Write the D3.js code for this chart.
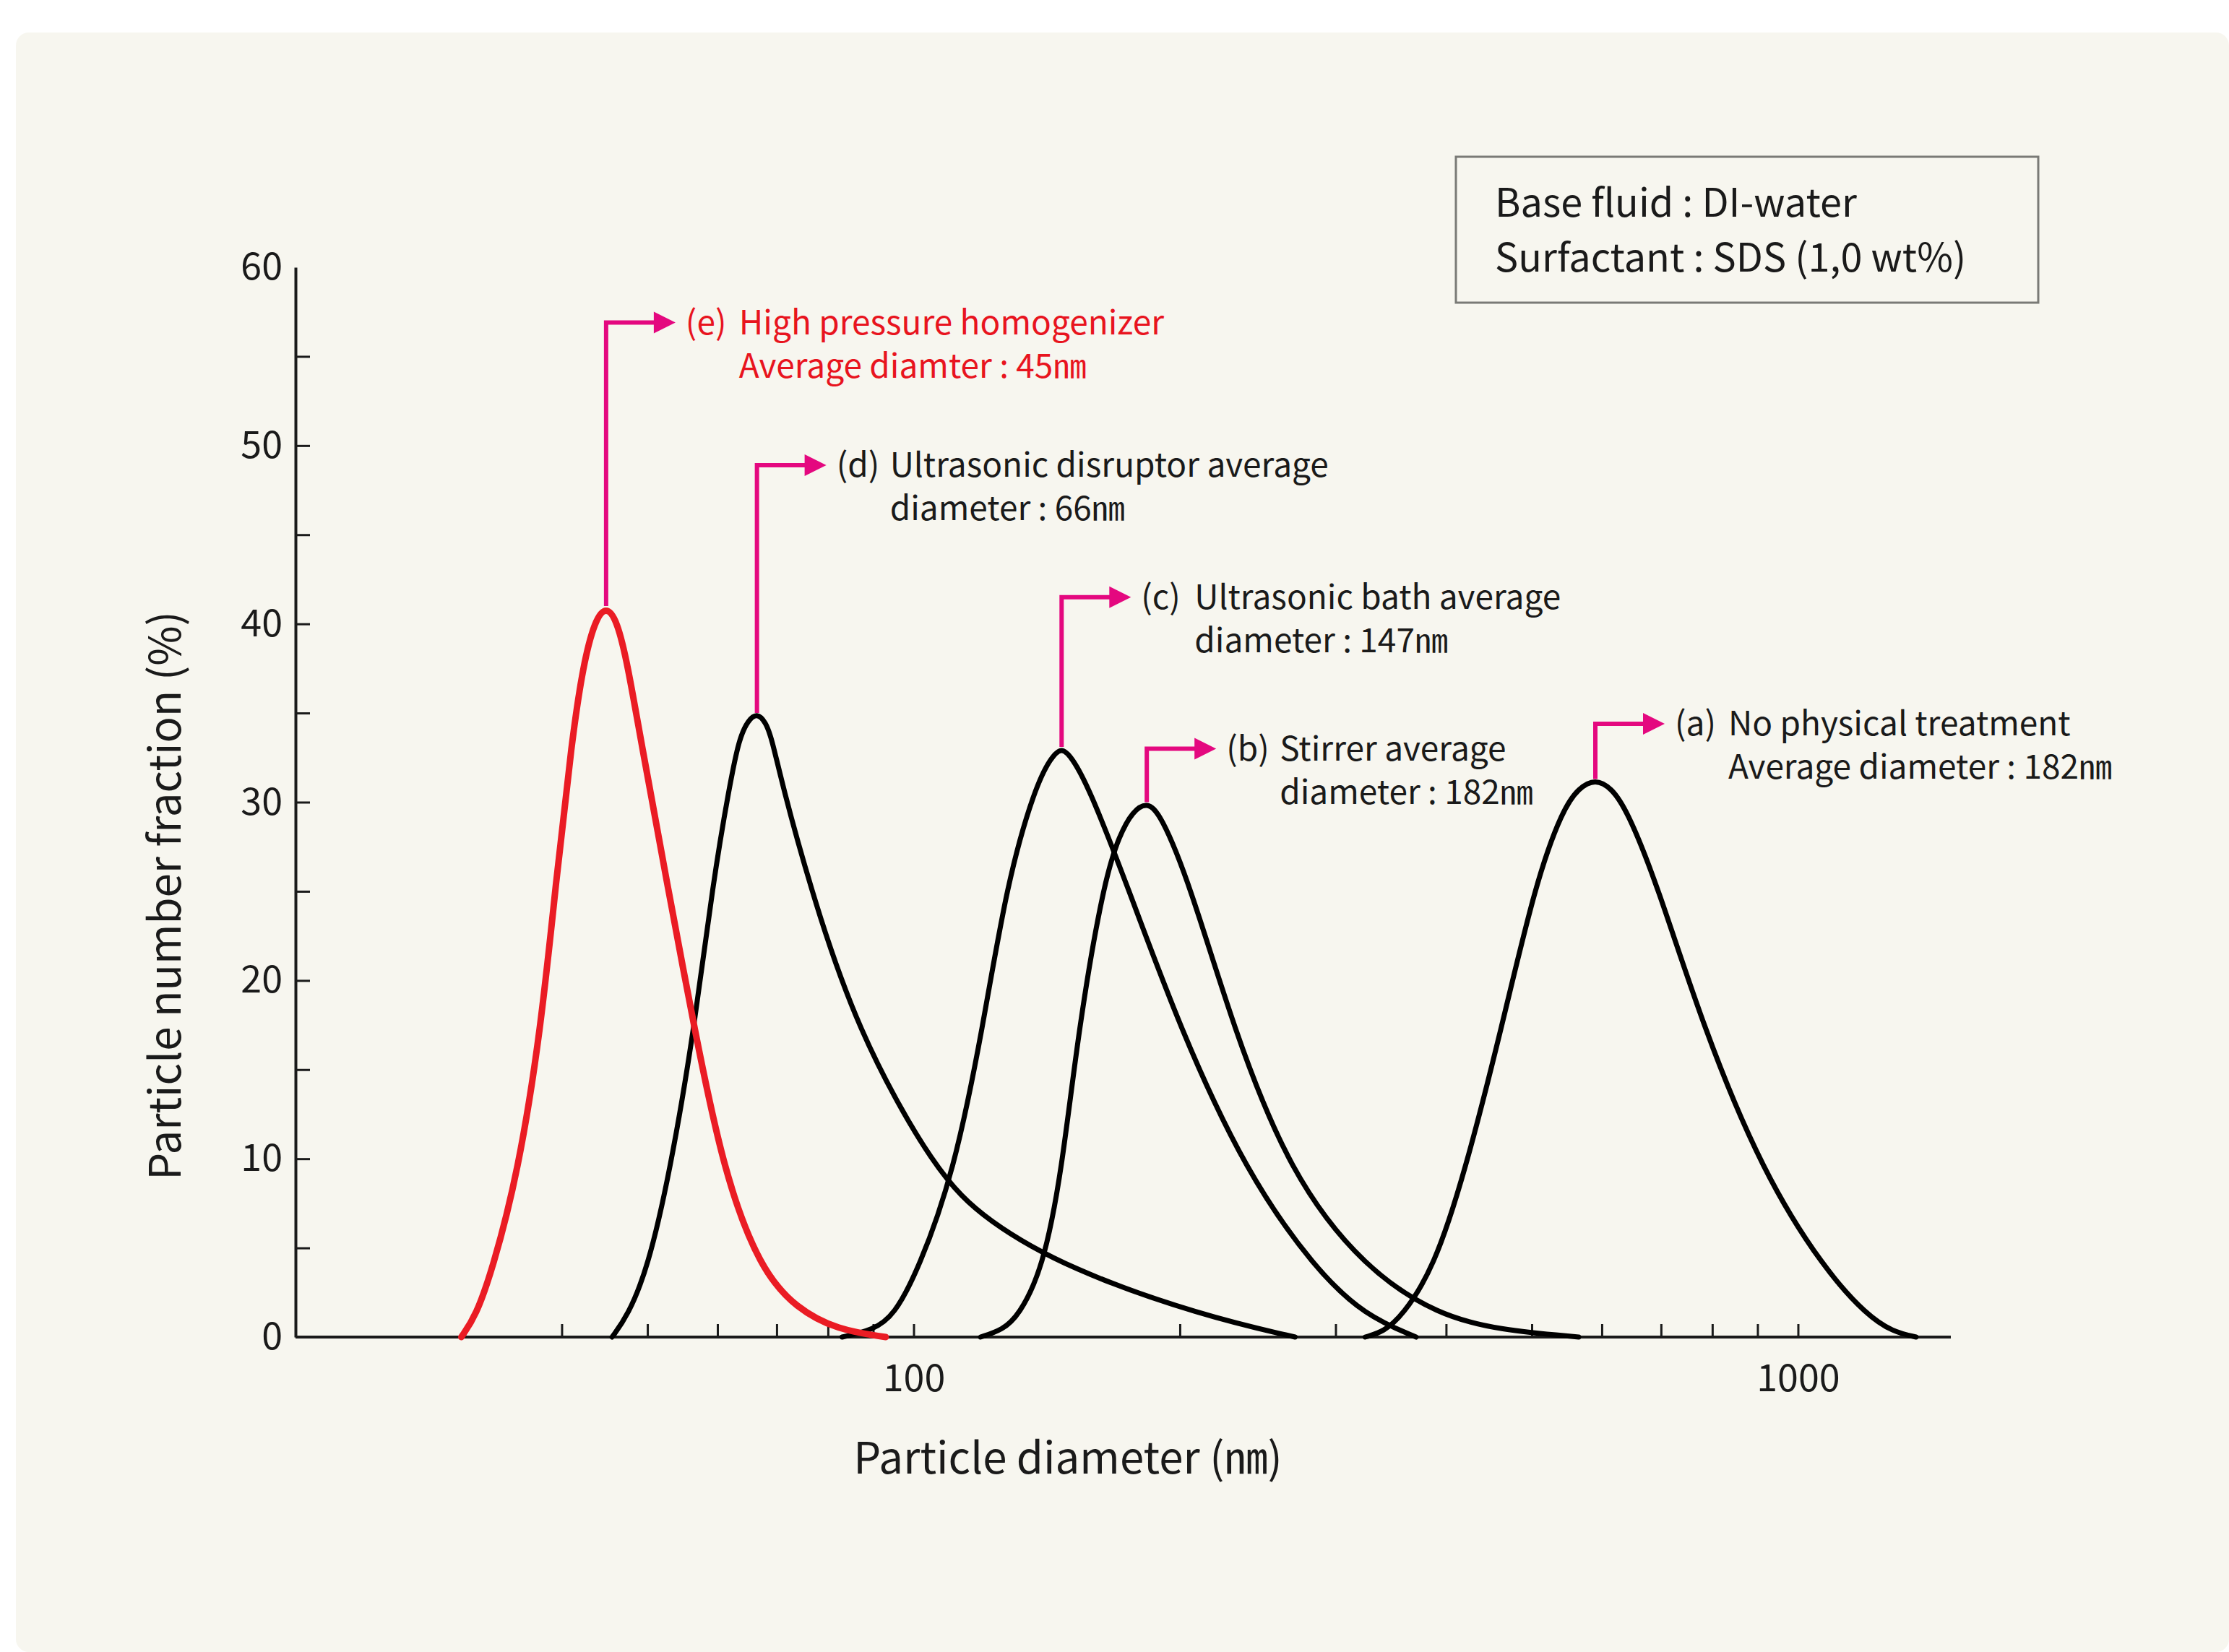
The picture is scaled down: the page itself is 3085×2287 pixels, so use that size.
<!DOCTYPE html>
<html>
<head>
<meta charset="utf-8">
<script src="https://cdn.jsdelivr.net/npm/d3@7"></script>
<style>
  body { margin: 0; background: #ffffff; }
  text { font-family: "Noto Sans CJK KR", "Noto Sans", sans-serif; }
</style>
</head>
<body>
<div id="chart"></div>
<script>
// Particle size distributions, [diameter (nm), number fraction (%)]
const seriesA = [[324, 0], [340, 0.3], [357, 1.2], [387, 3.8], [420, 9.2], [462, 17.3], [505, 25.5], [542, 29.6], [565, 30.8], [590, 31.3], [615, 30.8], [640, 29.6], [692, 25.5], [782, 17.3], [913, 9.2], [1071, 3.8], [1198, 1.2], [1280, 0.3], [1360, 0]];
const seriesB = [[119, 0], [126, 0.4], [131.5, 1.2], [139.9, 3.8], [147, 9.2], [153.6, 17.3], [164, 25.5], [171, 28.2], [177, 29.5], [183.5, 30.0], [190, 29.4], [205, 25.5], [230, 17.3], [266, 9.2], [324, 3.8], [393, 1.2], [460, 0.4], [565, 0]];
const seriesC = [[83, 0], [90, 0.4], [95, 1.2], [101.3, 3.8], [111, 9.2], [119.7, 17.3], [127.5, 25.5], [137.3, 30.9], [143, 32.5], [147, 33.1], [151, 32.5], [157.6, 30.9], [173.9, 25.5], [200, 17.3], [237.8, 9.2], [284.6, 3.8], [324, 1.2], [370, 0]];
const seriesD = [[45.6, 0], [47.5, 1.2], [50, 3.8], [53, 9.2], [56.5, 17.3], [59.3, 25.5], [61.9, 30.9], [63.5, 33.6], [65, 34.6], [66.5, 35.0], [68, 34.5], [69.1, 33.6], [71.1, 30.9], [76.1, 25.5], [86, 17.3], [106, 9.2], [121, 6.5], [150, 3.8], [212, 1.2], [270, 0]];
const seriesE = [[30.8, 0], [32, 1.2], [33.4, 3.8], [35.7, 9.2], [37.9, 17.3], [39.4, 25.5], [41.1, 33.6], [42.3, 37.7], [43.6, 40.2], [44.9, 41.0], [46.2, 40.2], [47.5, 37.7], [49.1, 33.6], [52.6, 25.5], [56.5, 17.3], [61, 9.2], [67.1, 3.8], [73.7, 1.6], [82, 0.4], [93, 0]];

const tags = ["(a)", "(b)", "(c)", "(d)", "(e)"];
const line1 = ["No physical treatment", "Stirrer average", "Ultrasonic bath average", "Ultrasonic disruptor average", "High pressure homogenizer"];
const line2 = ["Average diameter : 182㎚", "diameter : 182㎚", "diameter : 147㎚", "diameter : 66㎚", "Average diamter : 45㎚"];
const labelLevel = [34.4, 33.0, 41.5, 48.9, 56.9];

const xTicks = [40, 50, 60, 70, 80, 90, 100, 200, 300, 400, 500, 600, 700, 800, 900, 1000];
const xTickLabels = [100, 1000];
const yTicks = [0, 5, 10, 15, 20, 25, 30, 35, 40, 45, 50, 55, 60];

const boxLines = ["Base fluid : DI-water", "Surfactant : SDS (1,0 wt%)"];

const w = 3085;
const h = 2287;
const pink = "#e4087f";
const red = "#ea1c24";
const ink = "#1a1a1a";

const svg = d3.select("#chart").append("svg").attr("width", w).attr("height", h);

// background panel
svg.append("rect").attr("width", w).attr("height", h).attr("fill", "#ffffff");
svg.append("rect").attr("x", 22).attr("y", 45).attr("width", w - 22).attr("height", h - 45)
  .attr("rx", 18).attr("fill", "#f7f6ef");

const x = d3.scaleLog().domain([20, 1500]).range([409, 2704]);
const y = d3.scaleLinear().domain([0, 60]).range([1851, 370]);

// axes
const xAxis = svg.append("g")
  .attr("transform", `translate(0,${y(0)})`)
  .call(d3.axisBottom(x).tickValues(xTicks).tickSize(-18).tickSizeOuter(0).tickPadding(38)
    .tickFormat(d => xTickLabels.includes(d) ? d : ""));
xAxis.select(".domain").attr("stroke", ink).attr("stroke-width", 4).attr("d", `M409,0H2700`);
xAxis.selectAll(".tick line").attr("stroke", ink).attr("stroke-width", 3);
xAxis.selectAll(".tick text").attr("fill", ink).style("font-size", "52px");

const yAxis = svg.append("g")
  .attr("transform", `translate(${x(20)},0)`)
  .call(d3.axisLeft(y).tickValues(yTicks).tickSize(-20).tickSizeOuter(0).tickPadding(18)
    .tickFormat(d => d % 10 === 0 ? d : ""));
yAxis.select(".domain").attr("stroke", ink).attr("stroke-width", 4);
yAxis.selectAll(".tick line").attr("stroke", ink).attr("stroke-width", 3)
  .attr("display", d => (d === 0 || d === 60) ? "none" : null);
yAxis.selectAll(".tick text").attr("fill", ink).style("font-size", "52px");

svg.append("text")
  .attr("transform", "translate(250,1240) rotate(-90)")
  .attr("text-anchor", "middle")
  .attr("fill", ink)
  .style("font-size", "60px")
  .text("Particle number fraction (%)");

svg.append("text")
  .attr("x", 1478).attr("y", 2040)
  .attr("text-anchor", "middle")
  .attr("fill", ink)
  .style("font-size", "60px")
  .text("Particle diameter (㎚)");

// info box
svg.append("rect").attr("x", 2015).attr("y", 217).attr("width", 806).attr("height", 202)
  .attr("fill", "none").attr("stroke", "#7a7a76").attr("stroke-width", 3);
svg.selectAll(".boxline").data(boxLines).join("text")
  .attr("class", "boxline")
  .attr("x", 2069).attr("y", (d, i) => 300 + i * 76)
  .attr("fill", ink).style("font-size", "54px")
  .text(d => d);

const allSeries = [seriesA, seriesB, seriesC, seriesD, seriesE];
const peaks = allSeries.map(s => s.reduce((m, p) => p[1] > m[1] ? p : m));

// connectors with arrows
const ann = svg.append("g");
allSeries.forEach((s, i) => {
  const px = x(peaks[i][0]);
  const py = y(peaks[i][1]);
  const ly = y(labelLevel[i]);
  const tip = px + 96;
  ann.append("path")
    .attr("d", `M${px},${py}V${ly}H${tip - 20}`)
    .attr("fill", "none").attr("stroke", pink).attr("stroke-width", 6);
  ann.append("path")
    .attr("d", `M${tip},${ly}L${tip - 30},${ly - 15}L${tip - 30},${ly + 15}Z`)
    .attr("fill", pink);
  const col = i === 4 ? "#e8141e" : ink;
  const lx = tip + 14;
  ann.append("text").attr("x", lx).attr("y", ly).attr("dy", "0.35em")
    .attr("fill", col).style("font-size", "46px").text(tags[i]);
  ann.append("text").attr("x", lx + 74).attr("y", ly).attr("dy", "0.35em")
    .attr("fill", col).style("font-size", "46px").text(line1[i]);
  ann.append("text").attr("x", lx + 74).attr("y", ly + 60).attr("dy", "0.35em")
    .attr("fill", col).style("font-size", "46px").text(line2[i]);
});

// curves
const line = d3.line()
  .x(d => x(d[0]))
  .y(d => y(d[1]))
  .curve(d3.curveBasis);

svg.append("g")
  .selectAll("path")
  .data(allSeries)
  .join("path")
  .attr("d", line)
  .attr("fill", "none")
  .attr("stroke", (d, i) => i === 4 ? red : "#000000")
  .attr("stroke-width", (d, i) => i === 4 ? 9 : 7)
  .attr("stroke-linejoin", "round")
  .attr("stroke-linecap", "round");
</script>
</body>
</html>
